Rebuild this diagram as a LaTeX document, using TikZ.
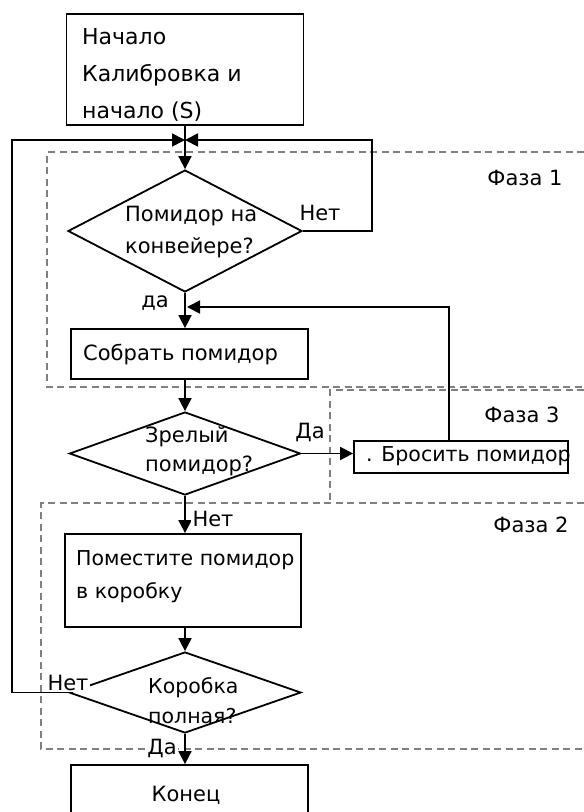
\documentclass[tikz,border=0pt]{standalone}
\usepackage{fontspec}
\setmainfont{DejaVu Sans}
\usetikzlibrary{shapes.geometric,arrows.meta}
\begin{document}
\begin{tikzpicture}[x=1pt,y=-1pt,
  box/.style={draw, line width=1.8pt, rectangle, inner sep=0pt},
  dia/.style={draw, line width=1.8pt, diamond, inner sep=0pt},
  txt/.style={font=\fontsize{21}{32}\selectfont, align=left, inner sep=0pt, anchor=west},
  conn/.style={line width=1.8pt},
  arr/.style={conn, -{Triangle[length=13pt,width=13pt]}},
  phase/.style={draw=black!50, line width=1.8pt, dash pattern=on 7pt off 4.5pt},
  lbl/.style={font=\fontsize{21}{24}\selectfont, inner sep=1.5pt, fill=white},
  phlbl/.style={font=\fontsize{21}{24}\selectfont, inner sep=0pt}
]
\useasboundingbox (0,0) rectangle (584,812);

% phases
\draw[phase] (584,152) -- (47,152) -- (47,387) -- (584,387);
\draw[phase] (584,390) -- (330,390) -- (330,500);
\draw[phase] (584,503) -- (41,503) -- (41,749) -- (584,749);
\node[phlbl] (ph1) at (525,178) {Фаза 1};
\node[phlbl] (ph3) at (522,415) {Фаза 3};
\node[phlbl] (ph2) at (531,525) {Фаза 2};

% boxes
\node[box, fill=white, minimum width=237pt, minimum height=111pt] (start) at (185,69.5) {};
\node[txt, font=\fontsize{22}{37}\selectfont] (starttxt) at (82,75) {Начало\\Калибровка и\\начало (S)};

\node[dia, minimum width=234pt, minimum height=122pt] (d1) at (185,231) {};
\node[txt] (d1txt) at (125,232) {Помидор на\\конвейере?};

\node[box, minimum width=237pt, minimum height=50pt] (collect) at (189.5,354) {};
\node[txt] (collecttxt) at (83,355) {Собрать помидор};

\node[dia, minimum width=231pt, minimum height=83pt] (d2) at (185,453.5) {};
\node[txt, font=\fontsize{21}{29}\selectfont] (d2txt) at (145,451) {Зрелый\\помидор?};

\node[box, minimum width=214pt, minimum height=32pt] (drop) at (461,457) {};
\node[txt, font=\fontsize{20.5}{24}\selectfont] (droptxt) at (366,456) {. Бросить помидор};

\node[box, minimum width=236pt, minimum height=93pt] (place) at (183,580.5) {};
\node[txt, font=\fontsize{20.5}{33}\selectfont] (placetxt) at (76,576.5) {Поместите помидор\\в коробку};

\node[dia, minimum width=232pt, minimum height=81pt] (d3) at (185,692.5) {};
\node[txt, font=\fontsize{20.5}{30}\selectfont] (d3txt) at (148,701) {Коробка\\полная?};

\node[box, minimum width=237pt, minimum height=80pt] (end) at (189.5,805) {};
\node[font=\fontsize{21}{24}\selectfont, inner sep=0pt] (endtxt) at (186,795) {Конец};

% merge points
\coordinate (m1) at (185,140);
\coordinate (r1) at (372,140);
\coordinate (l1) at (12,140);
\coordinate (m2) at (187,307);

% connectors
\draw[arr] (start.south) -- (d1.north);
\draw[arr] (d1.east) -| (r1) -- (m1);
\draw[arr] (d3.west) -| (l1) -- (m1);
\draw[arr] (d1.south) -- (d1.south |- collect.north);
\draw[arr] ([xshift=-12pt]drop.north) |- (m2);
\draw[arr] (d2.north |- collect.south) -- (d2.north);
\draw[arr] (d2.east) -- (d2.east -| drop.west);
\draw[arr] (d2.south) -- (d2.south |- place.north);
\draw[arr] (d3.north |- place.south) -- (d3.north);
\draw[arr] (d3.south) -- (d3.south |- end.north);

% labels
\node[lbl, fill=none] (l_no1) at (320,213) {Нет};
\node[lbl, fill=none] (l_yes1) at (155,303) {да};
\node[lbl, fill=none] (l_yes2) at (310,432) {Да};
\node[lbl] (l_no2) at (213,519) {Нет};
\node[lbl] (l_no3) at (68,683) {Нет};
\node[lbl] (l_yes3) at (162,748) {Да};
\end{tikzpicture}
\end{document}
